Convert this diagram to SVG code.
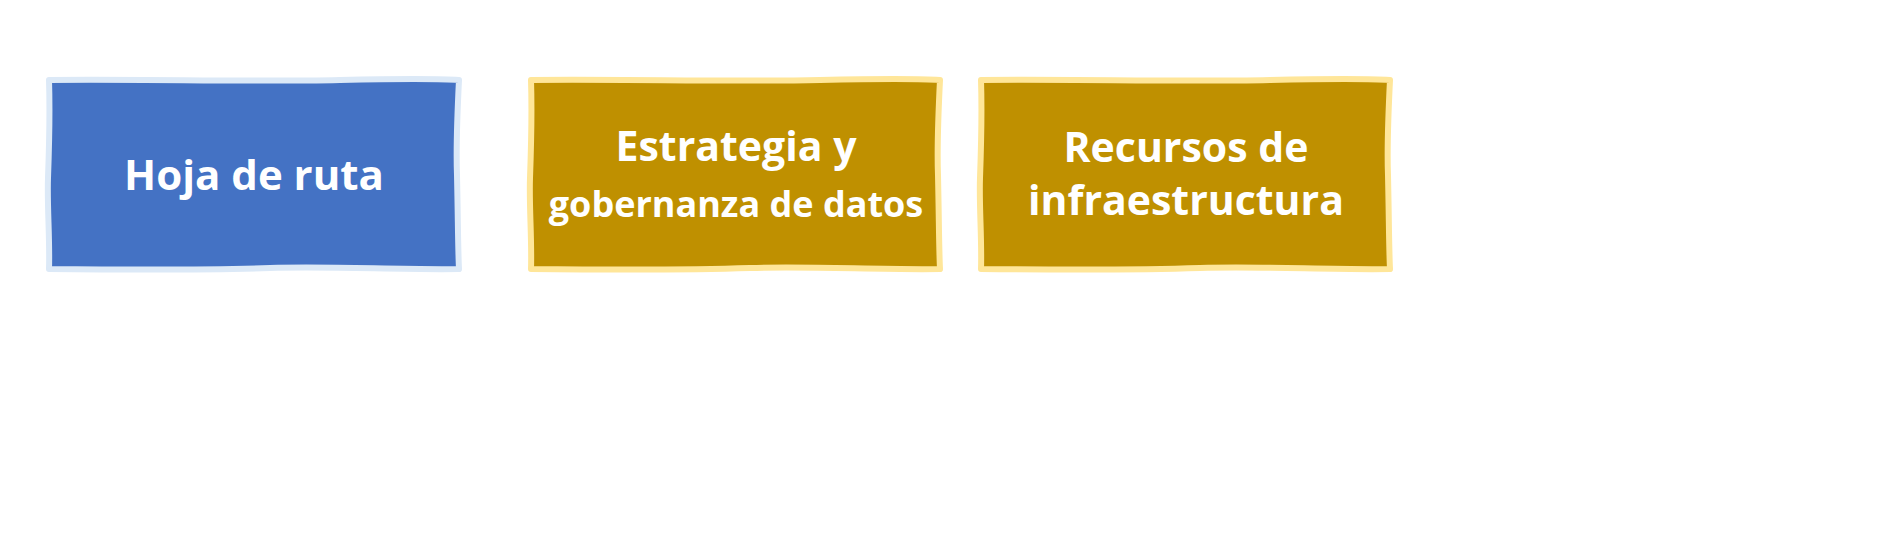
<svg xmlns="http://www.w3.org/2000/svg" width="1904" height="560" viewBox="0 0 1904 560">
<style>
.blue{fill:#4472C4;stroke:#DCE9F7;stroke-width:6;stroke-linejoin:round}
.gold{fill:#BF9000;stroke:#FFE699;stroke-width:6;stroke-linejoin:round}
.lbl{font-family:"Open Sans","Noto Sans","DejaVu Sans",sans-serif;font-weight:700;fill:#FFFFFF;text-anchor:middle}
</style>
<rect width="1904" height="560" fill="#FFFFFF"/>
<g id="connectors"></g>
<g id="node-hoja">
<path class="blue" d="M49,80 C150,79 250,82 340,80 S440,79 459,80 C457,120 456,150 457,175 C458,220 458,250 459,269 C400,270 330,266 270,268 S150,270 49,269 C50,240 47,205 48,178 S50,110 49,80 Z"/>
<text class="lbl" x="254" y="190" font-size="42">Hoja de ruta</text>
</g>
<g id="node-estrategia">
<path class="gold" d="M531,80 C630,79 730,82 820,80 S920,79 940,80 C938,120 937,150 938,175 C939,220 939,250 940,269 C880,270 810,266 750,268 S630,270 531,269 C532,240 529,205 530,178 S532,110 531,80 Z"/>
<text class="lbl" x="736" y="161" font-size="41">Estrategia y</text>
<text class="lbl" x="736" y="217" font-size="36">gobernanza de datos</text>
</g>
<g id="node-recursos">
<path class="gold" d="M981,80 C1080,79 1180,82 1270,80 S1370,79 1390,80 C1388,120 1387,150 1388,175 C1389,220 1389,250 1390,269 C1330,270 1260,266 1200,268 S1080,270 981,269 C982,240 979,205 980,178 S982,110 981,80 Z"/>
<text class="lbl" x="1186" y="162" font-size="41">Recursos de</text>
<text class="lbl" x="1186" y="215" font-size="41">infraestructura</text>
</g>
</svg>
